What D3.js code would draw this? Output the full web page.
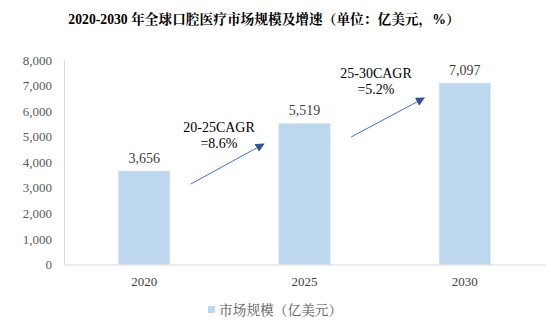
<!DOCTYPE html>
<html><head><meta charset="utf-8">
<script src="https://cdn.jsdelivr.net/npm/d3@7"></script>
<style>body{margin:0;background:#fff}svg{display:block}</style>
</head><body>
<script>
const categories = ["2020", "2025", "2030"];
const values = [3656, 5519, 7097];
const yTicks = [0, 1000, 2000, 3000, 4000, 5000, 6000, 7000, 8000];
const cagrLabels = [["20-25CAGR", "=8.6%"], ["25-30CAGR", "=5.2%"]];
const titleParts = [["2020-2030 ", "num"], ["年全球口腔医疗市场规模及增速（单位：亿美元，", "cjk"], ["%", "num"], ["）", "cjk"]];
const legendLabel = "市场规模（亿美元）";

const W = 551, H = 329;
const svg = d3.select("body").append("svg").attr("width", W).attr("height", H);
const serif = "Liberation Serif";
const cjkSerif = "Noto Serif CJK SC";

const x = d3.scaleBand().domain(categories).range([64, 545]).paddingInner(0.68).paddingOuter(0.34);
const y = d3.scaleLinear().domain([0, 8000]).range([264.5, 60]);

// Title
const t = svg.append("text").attr("x", 264).attr("y", 24).attr("text-anchor", "middle")
  .style("font-weight", "bold").style("font-size", "13.7px").attr("fill", "#000");
titleParts.forEach(([s, k]) => t.append("tspan").style("font-family", k === "num" ? serif : cjkSerif).text(s));

// Y axis
const yAxis = svg.append("g").attr("transform", "translate(64,0)")
  .call(d3.axisLeft(y).tickValues(yTicks).tickFormat(d3.format(",")).tickSize(0).tickPadding(12));
yAxis.attr("font-family", null);
yAxis.select(".domain").attr("stroke", "#d9d9d9");
yAxis.selectAll("text").style("font-family", serif).style("font-size", "13px").attr("fill", "#595959");

// Bars
svg.selectAll("rect.bar").data(values).enter().append("rect").attr("class", "bar")
  .attr("x", (d, i) => x(categories[i])).attr("width", x.bandwidth())
  .attr("y", d => y(d)).attr("height", d => y(0) - y(d))
  .attr("fill", "#bdd7ee").attr("stroke", "#d6e4f0").attr("stroke-width", 0.6);

// X axis
const xAxis = svg.append("g").attr("transform", `translate(0,${y(0)})`)
  .call(d3.axisBottom(x).tickSize(0).tickPadding(12));
xAxis.attr("font-family", null);
xAxis.select(".domain").attr("stroke", "#d9d9d9");
xAxis.selectAll("text").style("font-family", serif).style("font-size", "13px").attr("fill", "#404040");

// Value labels
svg.selectAll("text.val").data(values).enter().append("text").attr("class", "val")
  .attr("x", (d, i) => x(categories[i]) + x.bandwidth() / 2).attr("y", d => y(d) - 8)
  .attr("text-anchor", "middle").style("font-family", serif).style("font-size", "14px").attr("fill", "#404040")
  .text(d3.format(","));

// Arrows
svg.append("defs").append("marker").attr("id", "ah").attr("viewBox", "0 0 10 10").attr("refX", 9).attr("refY", 5)
  .attr("markerWidth", 9).attr("markerHeight", 9).attr("markerUnits", "userSpaceOnUse").attr("orient", "auto")
  .append("path").attr("d", "M0,0 L10,5 L0,10 Z").attr("fill", "#2f5597");

const arrowY = [[184, 144], [137, 98]];
const labelPos = [[219, 132], [376, 78]];
cagrLabels.forEach((lab, i) => {
  const x0 = x(categories[i]) + x.bandwidth() + 21;
  const x1 = x(categories[i + 1]) - 15;
  svg.append("line").attr("x1", x0).attr("y1", arrowY[i][0]).attr("x2", x1).attr("y2", arrowY[i][1])
    .attr("stroke", "#4472c4").attr("stroke-width", 1).attr("marker-end", "url(#ah)");
  const [cx, ty] = labelPos[i];
  lab.forEach((s, j) => svg.append("text").attr("x", cx).attr("y", ty + j * 16).attr("text-anchor", "middle")
    .style("font-family", serif).style("font-size", "14px").attr("fill", "#000").text(s));
});

// Legend
svg.append("rect").attr("x", 208).attr("y", 306).attr("width", 7).attr("height", 7).attr("fill", "#bdd7ee");
svg.append("text").attr("x", 219).attr("y", 315).style("font-family", cjkSerif).style("font-size", "13.7px")
  .attr("fill", "#595959").text(legendLabel);
</script>
</body></html>
